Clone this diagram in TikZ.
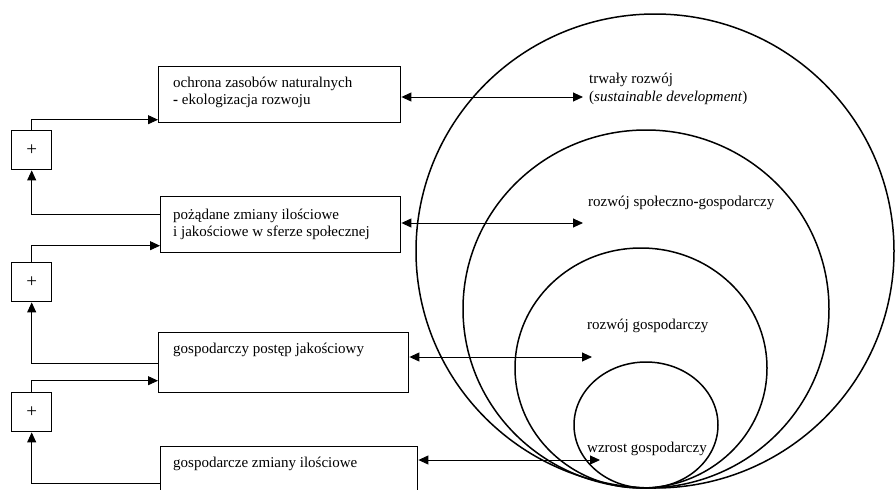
\documentclass[tikz,border=0pt]{standalone}
\usepackage{fontspec}
\setmainfont{Liberation Serif}
\usetikzlibrary{arrows.meta}
\begin{document}
\begin{tikzpicture}[x=1pt,y=-1pt,
  font=\fontsize{15}{16.5}\selectfont,
  box/.style={draw, line width=1.4pt, minimum width=#1, minimum height=56pt, inner sep=0pt, anchor=north west},
  plusbox/.style={draw, line width=1.4pt, minimum width=40pt, minimum height=39pt, inner sep=0pt, anchor=north west},
  plus/.style={font=\fontsize{19}{19}\selectfont, inner sep=0pt},
  txt/.style={anchor=north west, align=left, inner sep=0pt},
  lbl/.style={anchor=west, align=left, inner sep=0pt},
  ring/.style={draw, line width=1.5pt},
  feed/.style={line width=0.9pt, -{Triangle[length=10pt,width=9pt]}},
  both/.style={line width=0.9pt, {Triangle[length=10pt,width=9pt]}-{Triangle[length=10pt,width=9pt]}}]
\useasboundingbox (0,0) rectangle (895,490);
\clip (0,0) rectangle (895,490);

% nested rings touching at the bottom
\draw[ring] (655,251) ellipse [x radius=239, y radius=237];
\draw[ring] (646,309) ellipse [x radius=183, y radius=179];
\draw[ring] (641,368) ellipse [x radius=126, y radius=120];
\draw[ring] (646,425) ellipse [x radius=72, y radius=63];

% boxes on the left
\node[box=242pt] (b1) at (158,66) {};
\node[box=240pt] (b2) at (160,196) {};
\node[box=250pt, minimum height=60pt] (b3) at (158,332) {};
\node[box=257pt, minimum height=60pt] (b4) at (160,446) {};

\node[txt] at ([xshift=15pt,yshift=-11pt]b1.north west) {ochrona zasobów naturalnych\\\textbf{-} ekologizacja rozwoju};
\node[txt] at ([xshift=13pt,yshift=-13pt]b2.north west) {pożądane zmiany ilościowe\\i jakościowe w sferze społecznej};
\node[txt] at ([xshift=15pt,yshift=-11pt]b3.north west) {gospodarczy postęp jakościowy};
\node[txt] at ([xshift=13pt,yshift=-11pt]b4.north west) {gospodarcze zmiany ilościowe};

% summing boxes
\node[plusbox] (p1) at (11,130) {};
\node[plusbox] (p2) at (11,262) {};
\node[plusbox] (p3) at (11,392) {};
\node[plus] at (p1.center) {+};
\node[plus] at (p2.center) {+};
\node[plus] at (p3.center) {+};

% feedback connections
\draw[feed] ([yshift=10.5pt]b2.west) -| (p1.south);
\draw[feed] (p1.north) |- ([yshift=-25pt]b1.west);
\draw[feed] ([yshift=-0.5pt]b3.west) -| (p2.south);
\draw[feed] (p2.north) |- ([yshift=-21pt]b2.west);
\draw[feed] ([yshift=-7pt]b4.west) -| (p3.south);
\draw[feed] (p3.north) |- ([yshift=-18pt]b3.west);

% labels of the rings
\node[lbl, font=\fontsize{15}{18.5}\selectfont] (l1) at (589,89) {trwały rozwój\\(\textit{sustainable development})};
\node[lbl] (l2) at (588,203) {rozwój społeczno\textbf{-}gospodarczy};
\node[lbl] (l3) at (587,326) {rozwój gospodarczy};
\node[lbl] (l4) at (587,449) {wzrost gospodarczy};

% double-headed links between boxes and rings
\coordinate (e1) at (583,97);
\coordinate (e2) at (583,223);
\coordinate (e3) at (592,357);
\coordinate (e4) at (600,460);
\draw[both] (b1.east |- e1) -- (e1);
\draw[both] (b2.east |- e2) -- (e2);
\draw[both] (b3.east |- e3) -- (e3);
\draw[both] (b4.east |- e4) -- (e4);
\end{tikzpicture}
\end{document}
